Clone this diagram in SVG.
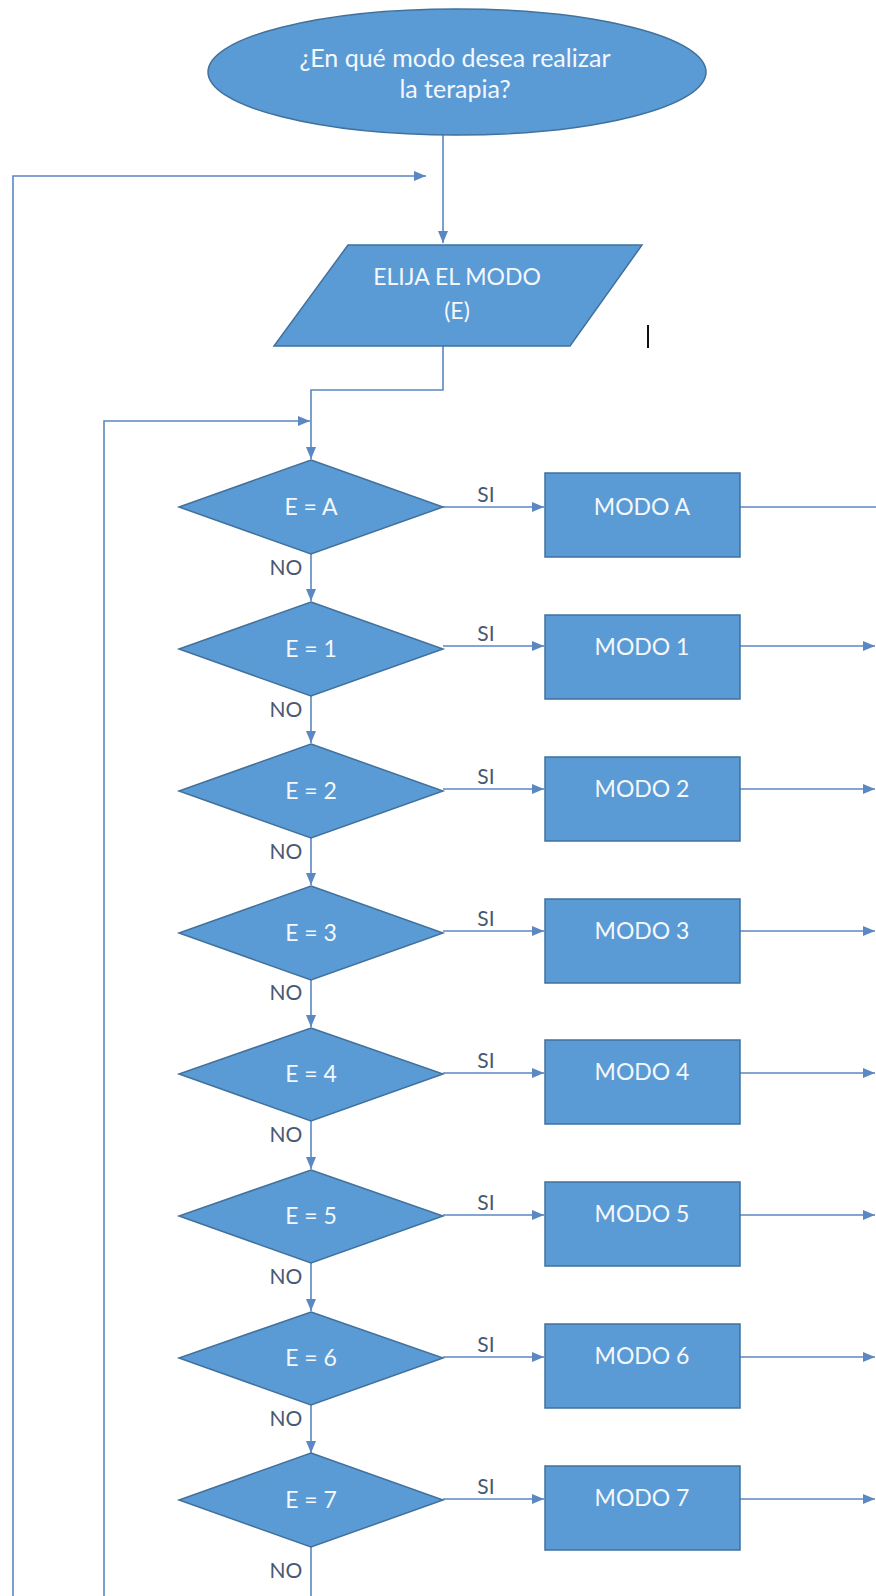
<svg xmlns="http://www.w3.org/2000/svg" width="876" height="1596" viewBox="0 0 876 1596">
<defs>
<style>
.shape{fill:#5b9bd5;stroke:#41719c;stroke-width:1.5}
.st{font-family:Lato,"Liberation Sans",sans-serif;font-size:23px;fill:#f4f8fd;text-anchor:middle}
.big{font-size:25px}
.lb{font-family:Lato,"Liberation Sans",sans-serif;font-size:21px;fill:#4a5872;text-anchor:middle}
.c{fill:none;stroke:#5b87c2;stroke-width:1.6}
</style>
<marker id="ah" viewBox="0 0 12 10" refX="12" refY="5" markerWidth="12" markerHeight="10" markerUnits="userSpaceOnUse" orient="auto">
<path d="M0,0 L12,5 L0,10 Z" fill="#5b87c2"/>
</marker>
</defs>
<rect width="876" height="1596" fill="#ffffff"/>
<g id="connectors">
<path class="c" d="M443,135 V243" marker-end="url(#ah)"/>
<path class="c" d="M13,1596 V176 H426" marker-end="url(#ah)"/>
<path class="c" d="M443,346 V390 H311 V459" marker-end="url(#ah)"/>
<path class="c" d="M104,1596 V421 H310" marker-end="url(#ah)"/>
<path class="c" d="M443,507 H544" marker-end="url(#ah)"/>
<path class="c" d="M740,507 H876"/>
<path class="c" d="M311,554 V601" marker-end="url(#ah)"/>
<path class="c" d="M443,646 H544" marker-end="url(#ah)"/>
<path class="c" d="M740,646 H875" marker-end="url(#ah)"/>
<path class="c" d="M311,696 V743" marker-end="url(#ah)"/>
<path class="c" d="M443,789 H544" marker-end="url(#ah)"/>
<path class="c" d="M740,789 H875" marker-end="url(#ah)"/>
<path class="c" d="M311,838 V885" marker-end="url(#ah)"/>
<path class="c" d="M443,931 H544" marker-end="url(#ah)"/>
<path class="c" d="M740,931 H875" marker-end="url(#ah)"/>
<path class="c" d="M311,979 V1027" marker-end="url(#ah)"/>
<path class="c" d="M443,1073 H544" marker-end="url(#ah)"/>
<path class="c" d="M740,1073 H875" marker-end="url(#ah)"/>
<path class="c" d="M311,1121 V1169" marker-end="url(#ah)"/>
<path class="c" d="M443,1215 H544" marker-end="url(#ah)"/>
<path class="c" d="M740,1215 H875" marker-end="url(#ah)"/>
<path class="c" d="M311,1263 V1311" marker-end="url(#ah)"/>
<path class="c" d="M443,1357 H544" marker-end="url(#ah)"/>
<path class="c" d="M740,1357 H875" marker-end="url(#ah)"/>
<path class="c" d="M311,1405 V1453" marker-end="url(#ah)"/>
<path class="c" d="M443,1499 H544" marker-end="url(#ah)"/>
<path class="c" d="M740,1499 H875" marker-end="url(#ah)"/>
<path class="c" d="M311,1547 V1596"/>
<text class="lb" x="486" y="502">SI</text>
<text class="lb" x="486" y="641">SI</text>
<text class="lb" x="486" y="784">SI</text>
<text class="lb" x="486" y="926">SI</text>
<text class="lb" x="486" y="1068">SI</text>
<text class="lb" x="486" y="1210">SI</text>
<text class="lb" x="486" y="1352">SI</text>
<text class="lb" x="486" y="1494">SI</text>
<text class="lb" x="286" y="575">NO</text>
<text class="lb" x="286" y="717">NO</text>
<text class="lb" x="286" y="859">NO</text>
<text class="lb" x="286" y="1000">NO</text>
<text class="lb" x="286" y="1142">NO</text>
<text class="lb" x="286" y="1284">NO</text>
<text class="lb" x="286" y="1426">NO</text>
<text class="lb" x="286" y="1578">NO</text>
</g>
<g id="start">
<ellipse class="shape" cx="457" cy="72" rx="249" ry="63"/>
<text class="st big" x="455" y="67">¿En qué modo desea realizar</text>
<text class="st big" x="455" y="98">la terapia?</text>
</g>
<g id="input">
<polygon class="shape" points="348,245 642,245 570,346 274,346"/>
<text class="st" x="457" y="285">ELIJA EL MODO</text>
<text class="st" x="457" y="319">(E)</text>
</g>
<g id="cursor">
<line x1="648" y1="325" x2="648" y2="348" stroke="#111111" stroke-width="2"/>
</g>
<g id="dA"><polygon class="shape" points="311,460 443,507 311,554 179,507"/><text class="st" x="311" y="515">E = A</text></g>
<g id="mA"><rect class="shape" x="545" y="473" width="195" height="84"/><text class="st" x="642" y="515">MODO A</text></g>
<g id="d1"><polygon class="shape" points="311,602 443,649 311,696 179,649"/><text class="st" x="311" y="657">E = 1</text></g>
<g id="m1"><rect class="shape" x="545" y="615" width="195" height="84"/><text class="st" x="642" y="655">MODO 1</text></g>
<g id="d2"><polygon class="shape" points="311,744 443,791 311,838 179,791"/><text class="st" x="311" y="799">E = 2</text></g>
<g id="m2"><rect class="shape" x="545" y="757" width="195" height="84"/><text class="st" x="642" y="797">MODO 2</text></g>
<g id="d3"><polygon class="shape" points="311,886 443,933 311,980 179,933"/><text class="st" x="311" y="941">E = 3</text></g>
<g id="m3"><rect class="shape" x="545" y="899" width="195" height="84"/><text class="st" x="642" y="939">MODO 3</text></g>
<g id="d4"><polygon class="shape" points="311,1028 443,1074 311,1121 179,1074"/><text class="st" x="311" y="1082">E = 4</text></g>
<g id="m4"><rect class="shape" x="545" y="1040" width="195" height="84"/><text class="st" x="642" y="1080">MODO 4</text></g>
<g id="d5"><polygon class="shape" points="311,1170 443,1216 311,1263 179,1216"/><text class="st" x="311" y="1224">E = 5</text></g>
<g id="m5"><rect class="shape" x="545" y="1182" width="195" height="84"/><text class="st" x="642" y="1222">MODO 5</text></g>
<g id="d6"><polygon class="shape" points="311,1312 443,1358 311,1405 179,1358"/><text class="st" x="311" y="1366">E = 6</text></g>
<g id="m6"><rect class="shape" x="545" y="1324" width="195" height="84"/><text class="st" x="642" y="1364">MODO 6</text></g>
<g id="d7"><polygon class="shape" points="311,1453 443,1500 311,1547 179,1500"/><text class="st" x="311" y="1508">E = 7</text></g>
<g id="m7"><rect class="shape" x="545" y="1466" width="195" height="84"/><text class="st" x="642" y="1506">MODO 7</text></g>
</svg>
